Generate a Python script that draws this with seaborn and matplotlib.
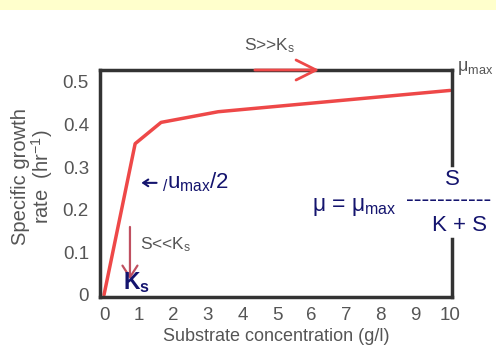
import matplotlib
matplotlib.use("Agg")
import matplotlib.pyplot as plt
import seaborn as sns
import numpy as np
import pandas as pd
from matplotlib.patches import Rectangle

# Data
substrate = [0, 0.9, 1.65, 3.3, 10]
growth_rate = [0, 0.355, 0.405, 0.43, 0.48]
x_ticks = [0, 1, 2, 3, 4, 5, 6, 7, 8, 9, 10]
y_ticks = [0, 0.1, 0.2, 0.3, 0.4, 0.5]
y_tick_labels = ["0", "0.1", "0.2", "0.3", "0.4", "0.5"]

sns.set_theme(style="white")
plt.rcParams['font.family'] = ['Liberation Sans', 'DejaVu Sans']
plt.rcParams['mathtext.fontset'] = 'custom'
plt.rcParams['mathtext.rm'] = 'Liberation Sans'
plt.rcParams['mathtext.it'] = 'Liberation Sans:italic'
plt.rcParams['mathtext.bf'] = 'Liberation Sans:bold'

GRAY = '#555555'
NAVY = '#14146e'
RED = '#ee4848'
SPINE = '#333333'

fig = plt.figure(figsize=(4.96, 3.5), dpi=100)
fig.patch.set_facecolor('white')
fig.patches.append(Rectangle((0, 1 - 10/350), 1, 10/350, transform=fig.transFigure,
                             facecolor='#ffffcc', edgecolor='none', zorder=0))
ax = fig.add_axes([100/496, 1 - 297/350, 352/496, 227/350])

df = pd.DataFrame({'S': substrate, 'mu': growth_rate})
sns.lineplot(data=df, x='S', y='mu', ax=ax, color=RED, linewidth=2.5, sort=False)

ax.set_xlim(-0.116, 10.06)
ax.set_ylim(-0.005, 0.528)
ax.set_xticks(x_ticks)
ax.set_xticklabels([str(t) for t in x_ticks])
ax.set_yticks(y_ticks)
ax.set_yticklabels(y_tick_labels)
ax.tick_params(axis='both', length=0, labelsize=13.5, labelcolor=GRAY)
ax.tick_params(axis='y', pad=8)
ax.tick_params(axis='x', pad=7)
ax.set_xlabel('Substrate concentration (g/l)', fontsize=13, color=GRAY, labelpad=3)
ax.set_ylabel('')

for side in ['left', 'bottom', 'top']:
    ax.spines[side].set_color(SPINE)
    ax.spines[side].set_linewidth(2.5)
ax.spines['right'].set_visible(False)
# right frame with a gap where the equation sits
for y0, y1 in [(1.0, 0.581), (0.256, 0.0)]:
    ax.plot([1, 1], [y0, y1], transform=ax.transAxes, color=SPINE,
            linewidth=2.5, clip_on=False, solid_capstyle='projecting')

fig.text(33/496, 1 - 177/350, 'Specific growth\nrate  (hr$^{-1}$)', rotation=90,
         ha='center', va='center', fontsize=14.5, color=GRAY,
         multialignment='center', linespacing=1.0)

# top arrow S>>Ks
ax.annotate('', xy=(6.3, 0.528), xytext=(4.28, 0.528),
            arrowprops=dict(arrowstyle='->,head_length=1.2,head_width=0.6',
                            color=RED, lw=2.0), annotation_clip=False)
ax.text(4.8, 0.586, 'S>>K$_\\mathrm{s}$', ha='center', va='center',
        fontsize=12.5, color=GRAY, clip_on=False)
ax.text(10.2, 0.532, 'μ$_{\\mathrm{max}}$', ha='left', va='center',
        fontsize=13, color=GRAY, clip_on=False)

# mu_max/2
ax.annotate('', xy=(1.0, 0.263), xytext=(1.6, 0.263),
            arrowprops=dict(arrowstyle='->,head_length=0.3,head_width=0.2',
                            color=NAVY, lw=1.5))
ax.text(1.68, 0.265, '$_{/}$u$_{\\mathrm{max}}$/2', ha='left', va='center',
        fontsize=16, color=NAVY)

# S<<Ks arrow
ax.annotate('', xy=(0.75, 0.03), xytext=(0.75, 0.166),
            arrowprops=dict(arrowstyle='->,head_length=0.7,head_width=0.45',
                            color='#c05060', lw=1.6))
ax.text(1.04, 0.117, 'S<<K$_\\mathrm{s}$', ha='left', va='center',
        fontsize=12.5, color=GRAY)
ax.text(0.55, 0.03, 'K$_\\mathbf{s}$', ha='left', va='center',
        fontsize=16.5, color=NAVY, fontweight='bold')

# equation
ax.text(10.06, 0.27, 'S', ha='center', va='center', fontsize=16, color=NAVY,
        clip_on=False)
ax.text(8.47, 0.207, 'μ = μ$_{\\mathrm{max}}$', ha='right', va='center', fontsize=16.5,
        color=NAVY, clip_on=False)
ax.text(9.96, 0.222, '-----------', ha='center', va='center', fontsize=17,
        color=NAVY, clip_on=False)
ax.text(10.29, 0.163, 'K + S', ha='center', va='center', fontsize=16,
        color=NAVY, clip_on=False)

fig.savefig('out.png', dpi=100)
